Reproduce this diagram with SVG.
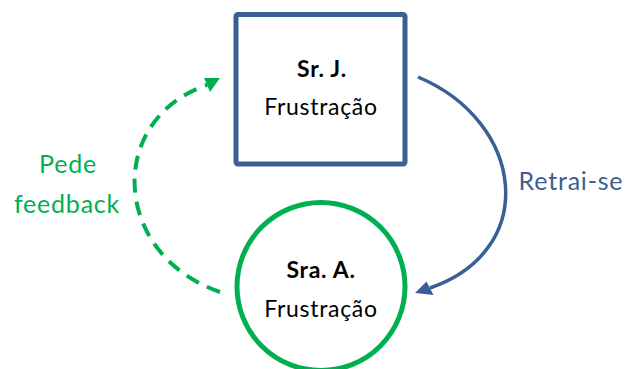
<svg xmlns="http://www.w3.org/2000/svg" width="626" height="369" viewBox="0 0 626 369">
  <style>
    .t { font-family: Lato, "Open Sans", "Liberation Sans", sans-serif; font-size: 23px; letter-spacing: 0.7px; text-anchor: middle; fill: #000; }
    .b { font-weight: bold; }
    .lbl { font-size: 25px; letter-spacing: 0.8px; }
    .blue { fill: #3A5F95; }
    .green { fill: #00B050; }
  </style>
  <rect width="626" height="369" fill="#fff"/>
  <g id="connectors">
    <path d="M418,77 C525,122 540,250 430,288" fill="none" stroke="#3A5F95" stroke-width="3.5"/>
    <polygon points="415,293 426.5,281.5 433.5,295" fill="#3A5F95"/>
    <path d="M220,292 C112,255 105,120 207,85" fill="none" stroke="#00B050" stroke-width="4" stroke-dasharray="14,9"/>
    <polygon points="220,78 204,78 210,92" fill="#00B050"/>
  </g>
  <g id="node-srj">
    <rect x="236" y="14.5" width="169" height="149.5" rx="2" fill="#fff" stroke="#3A5F95" stroke-width="5"/>
    <text class="t b" x="322" y="77">Sr. J.</text>
    <text class="t" x="321" y="115">Frustração</text>
  </g>
  <g id="node-sraa">
    <circle cx="321" cy="286.5" r="84" fill="#fff" stroke="#00B050" stroke-width="5"/>
    <text class="t b" x="321" y="278">Sra. A.</text>
    <text class="t" x="321" y="317">Frustração</text>
  </g>
  <g id="labels">
    <text class="t lbl green" x="68" y="173">Pede</text>
    <text class="t lbl green" x="67" y="213">feedback</text>
    <text class="t lbl blue" x="571" y="190">Retrai-se</text>
  </g>
</svg>
